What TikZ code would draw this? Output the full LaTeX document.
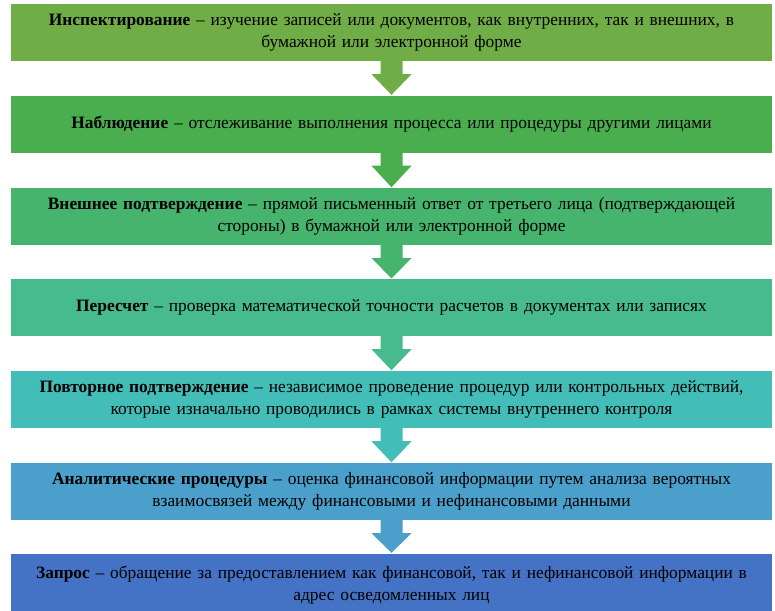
\documentclass[tikz,border=0pt]{standalone}
\usepackage{fontspec}
\setmainfont{Liberation Serif}
\usetikzlibrary{calc}
\definecolor{cA}{HTML}{70AD47}
\definecolor{cB}{HTML}{4AAE4E}
\definecolor{cC}{HTML}{46B46C}
\definecolor{cD}{HTML}{48BB8C}
\definecolor{cE}{HTML}{42BDB8}
\definecolor{cF}{HTML}{4A9FCB}
\definecolor{cG}{HTML}{4472C4}
\newcommand\flowarrow[3]{%
  \fill[#3] ($(#1.south)+(-11,-0.5)$) -- ($(#1.south)+(11,-0.5)$) -- ($(#1.south)+(11,13)$) --
  ($(#1.south)+(20,13)$) -- ($(#2.north)+(0,-0.5)$) -- ($(#1.south)+(-20,13)$) --
  ($(#1.south)+(-11,13)$) -- cycle;}
\begin{document}
\begin{tikzpicture}[x=1pt,y=-1pt,
  stepbox/.style={rectangle, inner sep=0pt, minimum width=761pt, minimum height=57pt,
    text width=750pt, align=center, font=\fontsize{17.4}{21.5}\selectfont, text=black}]
\useasboundingbox (0,0) rectangle (775,610);
\node[stepbox, fill=cA] (b1) at (391.5,32.5) {\textbf{Инспектирование} – изучение записей или документов, как внутренних, так и внешних, в\\ бумажной или электронной форме};
\node[stepbox, fill=cB] (b2) at (391.5,124) {\textbf{Наблюдение} – отслеживание выполнения процесса или процедуры другими лицами};
\node[stepbox, fill=cC] (b3) at (391.5,216.5) {\textbf{Внешнее подтверждение} – прямой письменный ответ от третьего лица (подтверждающей\\ стороны) в бумажной или электронной форме};
\node[stepbox, fill=cD] (b4) at (391.5,307.5) {\textbf{Пересчет} – проверка математической точности расчетов в документах или записях};
\node[stepbox, fill=cE] (b5) at (391.5,399.5) {\textbf{Повторное подтверждение} – независимое проведение процедур или контрольных действий,\\ которые изначально проводились в рамках системы внутреннего контроля};
\node[stepbox, fill=cF] (b6) at (391.5,491.5) {\textbf{Аналитические процедуры} – оценка финансовой информации путем анализа вероятных\\ взаимосвязей между финансовыми и нефинансовыми данными};
\node[stepbox, fill=cG, minimum height=63pt] (b7) at (391.5,585) {\textbf{Запрос} – обращение за предоставлением как финансовой, так и нефинансовой информации в\\ адрес осведомленных лиц};
\flowarrow{b1}{b2}{cA}
\flowarrow{b2}{b3}{cB}
\flowarrow{b3}{b4}{cC}
\flowarrow{b4}{b5}{cD}
\flowarrow{b5}{b6}{cE}
\flowarrow{b6}{b7}{cF}
\end{tikzpicture}
\end{document}
